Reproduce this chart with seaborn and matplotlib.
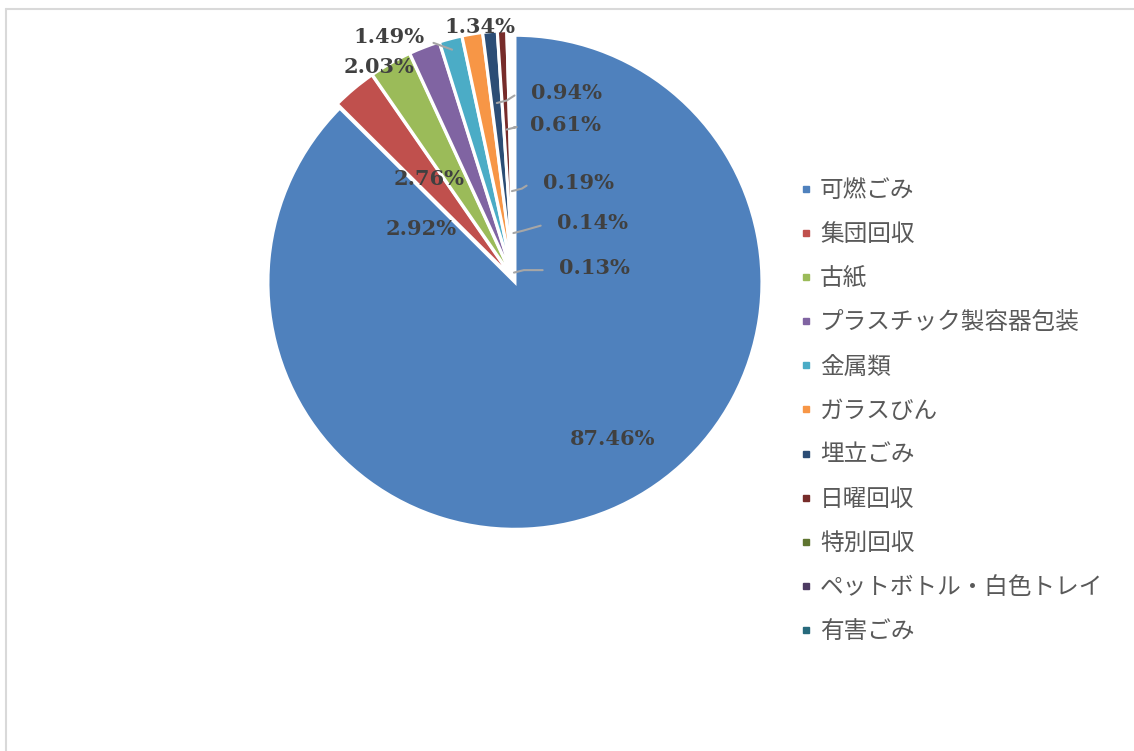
import numpy as np
import matplotlib
matplotlib.use("Agg")
import matplotlib.pyplot as plt
from matplotlib.lines import Line2D
import seaborn as sns

categories = ["可燃ごみ", "集団回収", "古紙", "プラスチック製容器包装", "金属類", "ガラスびん",
              "埋立ごみ", "日曜回収", "特別回収", "ペットボトル・白色トレイ", "有害ごみ"]
shares = [87.46, 2.92, 2.76, 2.03, 1.49, 1.34, 0.94, 0.61, 0.19, 0.14, 0.13]
pct_labels = ["87.46%", "2.92%", "2.76%", "2.03%", "1.49%", "1.34%",
              "0.94%", "0.61%", "0.19%", "0.14%", "0.13%"]
colors = ["#4F81BD", "#C0504D", "#9BBB59", "#8064A2", "#4BACC6", "#F79646",
          "#2C4D75", "#772C2A", "#5F7530", "#4D3B62", "#276A7C"]

sns.set_style("white")
plt.rcParams['font.family'] = ['Noto Sans CJK JP', 'DejaVu Sans']

W, H, DPI = 1134, 751, 100
fig = plt.figure(figsize=(W / DPI, H / DPI), dpi=DPI)

# pie axes: centre (514, 280) px, radius 247 px
cx, cy, R = 514, 280, 247
half = 300
ax = fig.add_axes([(cx - half) / W, (H - cy - half) / H, 2 * half / W, 2 * half / H])

pal = sns.color_palette(colors)
wedges, _ = ax.pie(shares, colors=pal, startangle=90, counterclock=False,
                   radius=1.0, explode=[0.01] * len(shares),
                   wedgeprops=dict(edgecolor='white', linewidth=2.2))
lim = half / R
ax.set_xlim(-lim, lim)
ax.set_ylim(-lim, lim)
ax.set_aspect('equal')
ax.axis('off')

# label layout (text anchor positions in pie-radius units, leader start radius)
label_pos = [(0.40, -0.645), (-0.376, 0.205), (-0.343, 0.408), (-0.547, 0.862),
             (-0.506, 0.985), (-0.139, 1.025), (0.212, 0.757), (0.208, 0.627),
             (0.261, 0.392), (0.318, 0.23), (0.326, 0.05)]
leader_r = [None, None, None, None, 0.985, None, 0.72, 0.61, 0.36, 0.19, 0.03]

tot = sum(shares)
cum = np.cumsum([0] + shares)
for i, (txt, (lx, ly)) in enumerate(zip(pct_labels, label_pos)):
    mid = np.deg2rad(90 - 360 * (cum[i] + shares[i] / 2) / tot)
    ax.text(lx, ly, txt, ha='center', va='center', fontsize=15,
            fontweight='bold', family='DejaVu Serif', color='#404040')
    if leader_r[i] is None:
        continue
    r = leader_r[i]
    sx, sy = r * np.cos(mid), r * np.sin(mid)
    if i == 4:
        ax.plot([lx + 0.18, sx], [ly - 0.025, sy - 0.02], color='#A6A6A6', lw=1.5)
    else:
        ex, ey = lx - 0.21, ly - 0.01
        ax.plot([sx, sx + 0.04, ex], [sy, sy + 0.01, ey], color='#A6A6A6', lw=1.5)

handles = [Line2D([], [], marker='s', linestyle='', markersize=5, color=c) for c in colors]
fig.legend(handles, categories, loc='upper left',
           bbox_to_anchor=(800 / W, 1 - 179 / H), frameon=False,
           fontsize=17, labelcolor='#595959', handlelength=0.55,
           handletextpad=0.3, labelspacing=0.895, borderaxespad=0, borderpad=0)

# chart-area border (top and left visible)
fig.add_artist(Line2D([6 / W, 1.01], [1 - 9 / H, 1 - 9 / H], color='#D9D9D9', lw=1.5,
                      transform=fig.transFigure))
fig.add_artist(Line2D([6 / W, 6 / W], [-0.01, 1 - 9 / H], color='#D9D9D9', lw=1.5,
                      transform=fig.transFigure))

fig.savefig("out.png", dpi=DPI)
